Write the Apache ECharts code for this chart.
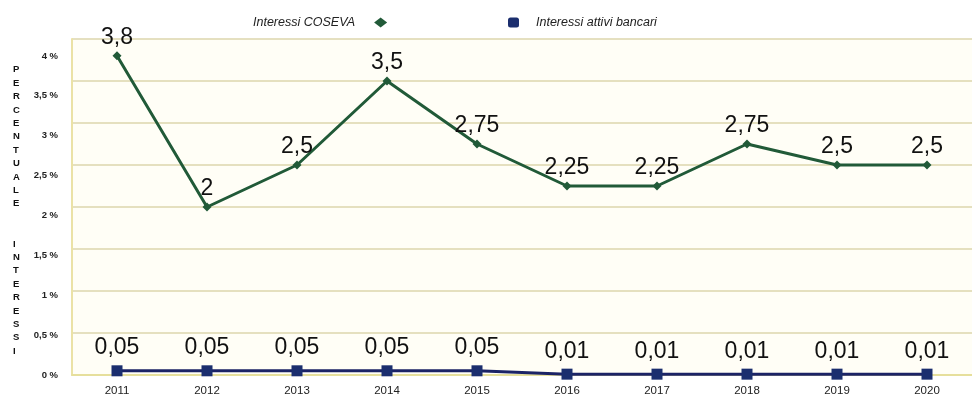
<!DOCTYPE html>
<html>
<head>
<meta charset="utf-8">
<script src="https://cdn.jsdelivr.net/npm/echarts@6/dist/echarts.min.js"></script>
<style>
  html, body { margin: 0; padding: 0; background: #ffffff; }
  #chart { width: 972px; height: 399px; }
</style>
</head>
<body>
<div id="chart"></div>
<script>
// Anni e tassi d'interesse (%)
const years = ['2011', '2012', '2013', '2014', '2015', '2016', '2017', '2018', '2019', '2020'];
const interessiCoseva = [3.8, 2, 2.5, 3.5, 2.75, 2.25, 2.25, 2.75, 2.5, 2.5];
const interessiBancari = [0.05, 0.05, 0.05, 0.05, 0.05, 0.01, 0.01, 0.01, 0.01, 0.01];
const percentLabels = ['0 %', '0,5 %', '1 %', '1,5 %', '2 %', '2,5 %', '3 %', '3,5 %', '4 %'];
const axisTitle = 'PERCENTUALE  INTERESSI';

const FONT = "'Liberation Sans', Arial, Helvetica, sans-serif";
const fmtNum = v => String(v).replace('.', ',');

const chart = echarts.init(document.getElementById('chart'), null, { renderer: 'canvas' });

// vertical title: one letter per line, blank lines between the two words
const verticalTitle = axisTitle.split('').map(c => (c === ' ' ? '' : c)).join('\n');

chart.setOption({
  animation: false,
  backgroundColor: '#ffffff',
  grid: {
    left: 72, right: -4, top: 39, bottom: 24,
    show: true, backgroundColor: '#fffef6', borderWidth: 0
  },
  legend: [
    {
      data: ['Interessi COSEVA'],
      left: 248, top: 11,
      align: 'right',
      icon: 'diamond',
      itemWidth: 13, itemHeight: 10, itemGap: 10,
      textStyle: { fontFamily: FONT, fontStyle: 'italic', fontSize: 12.5, color: '#222', padding: [0, 14, 0, 0] }
    },
    {
      data: ['Interessi attivi bancari'],
      left: 503, top: 11,
      align: 'left',
      icon: 'roundRect',
      itemWidth: 11, itemHeight: 10,
      textStyle: { fontFamily: FONT, fontStyle: 'italic', fontSize: 12.5, color: '#222', padding: [0, 0, 0, 12] }
    }
  ],
  graphic: [
    {
      type: 'text',
      left: 13, top: 63,
      style: {
        text: verticalTitle,
        font: 'bold 9.5px ' + FONT,
        lineHeight: 13.4,
        fill: '#111',
        align: 'center'
      }
    }
  ],
  xAxis: {
    type: 'category',
    data: years,
    boundaryGap: true,
    axisLine: { show: true, lineStyle: { color: '#e6df9c', width: 2 } },
    axisTick: { show: false },
    splitLine: { show: false },
    axisLabel: { fontFamily: FONT, fontSize: 11.5, color: '#222', margin: 10 }
  },
  yAxis: [
    {
      // scale used by the lines and grid
      type: 'value',
      min: 0, max: 4, interval: 0.5,
      axisLine: { show: true, lineStyle: { color: '#ebe2a6', width: 2 } },
      axisTick: { show: false },
      axisLabel: { show: false },
      splitLine: { show: true, lineStyle: { color: '#dcd6ad', width: 1.5 } }
    },
    {
      // percentage captions placed on their own, tighter scale
      type: 'value',
      position: 'left',
      min: 0, max: 4.213, interval: 0.5,
      axisLine: { show: false },
      axisTick: { show: false },
      splitLine: { show: false },
      axisLabel: {
        margin: 14,
        fontFamily: FONT, fontSize: 9.5, fontWeight: 'bold', color: '#222',
        formatter: v => {
          const i = Math.round(v / 0.5);
          return (Math.abs(v - i * 0.5) < 1e-6 && i < percentLabels.length) ? percentLabels[i] : '';
        }
      }
    }
  ],
  series: [
    {
      name: 'Interessi COSEVA',
      type: 'line',
      yAxisIndex: 0,
      data: interessiCoseva,
      color: '#215a38',
      symbol: 'diamond',
      symbolSize: 9,
      lineStyle: { width: 3, color: '#215a38' },
      itemStyle: { color: '#215a38' },
      label: {
        show: true, position: 'top', distance: 2,
        fontFamily: FONT, fontSize: 23, color: '#111',
        formatter: p => fmtNum(p.value)
      },
      z: 3
    },
    {
      name: 'Interessi attivi bancari',
      type: 'line',
      yAxisIndex: 0,
      data: interessiBancari,
      color: '#1b2a6b',
      symbol: 'rect',
      symbolSize: 11,
      lineStyle: { width: 3, color: '#1b2366' },
      itemStyle: { color: '#1b2e6e' },
      label: {
        show: true, position: 'top', distance: 6,
        fontFamily: FONT, fontSize: 23, color: '#111',
        formatter: p => fmtNum(p.value)
      },
      z: 4
    }
  ]
});
</script>
</body>
</html>
